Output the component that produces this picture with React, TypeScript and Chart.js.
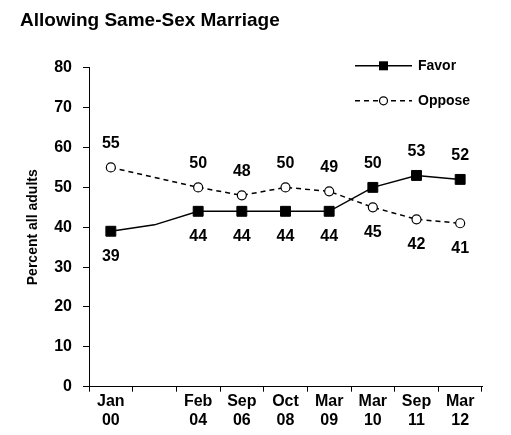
import React, { useEffect, useRef } from 'react';
import { Chart, registerables } from 'chart.js';

Chart.register(...registerables);

const categories: string[][] = [
  ['Jan', '00'],
  ['', ''],
  ['Feb', '04'],
  ['Sep', '06'],
  ['Oct', '08'],
  ['Mar', '09'],
  ['Mar', '10'],
  ['Sep', '11'],
  ['Mar', '12'],
];
const favor = [39, 40.6, 44, 44, 44, 44, 50, 53, 52];
const oppose = [55, 52.5, 50, 48, 50, 49, 45, 42, 41];
const seriesNames = ['Favor', 'Oppose'];
const yMin = 0;
const yMax = 80;
const yStep = 10;
const titleText = 'Allowing Same-Sex Marriage';
const yTitle = 'Percent all adults';

const FONT = '"Liberation Sans", Arial, sans-serif';
const isBlank = (i: number) => categories[i].join('') === '';

const pointLabels = {
  id: 'pointLabels',
  afterDatasetsDraw(chart: any) {
    const ctx = chart.ctx;
    const sets = chart.data.datasets;
    ctx.save();
    ctx.font = `bold 16px ${FONT}`;
    ctx.fillStyle = '#000';
    ctx.textAlign = 'center';
    ctx.textBaseline = 'middle';
    sets.forEach((ds: any, di: number) => {
      const meta = chart.getDatasetMeta(di);
      const other = sets[1 - di].data;
      meta.data.forEach((pt: any, i: number) => {
        if (isBlank(i)) return;
        const v = ds.data[i];
        const above = v > other[i];
        ctx.fillText(String(v), pt.x, pt.y + (above ? -24 : 25));
      });
    });
    ctx.restore();
  },
};

const customLegend = {
  id: 'customLegend',
  afterDraw(chart: any) {
    const ctx = chart.ctx;
    const { right, top } = chart.chartArea;
    const x0 = right - 127;
    const x1 = right - 70;
    const xm = (x0 + x1) / 2;
    chart.data.datasets.forEach((ds: any, di: number) => {
      const y = top - 2 + di * 35;
      ctx.save();
      ctx.strokeStyle = '#000';
      ctx.lineWidth = 1.5;
      ctx.setLineDash(ds.borderDash || []);
      ctx.beginPath();
      ctx.moveTo(x0, y);
      ctx.lineTo(x1, y);
      ctx.stroke();
      ctx.setLineDash([]);
      if (ds.pointStyle === 'rect') {
        ctx.fillStyle = '#000';
        ctx.fillRect(xm - 4.5, y - 4.5, 9, 9);
      } else {
        ctx.fillStyle = '#fff';
        ctx.lineWidth = 1.2;
        ctx.beginPath();
        ctx.arc(xm, y, 4, 0, Math.PI * 2);
        ctx.fill();
        ctx.stroke();
      }
      ctx.fillStyle = '#000';
      ctx.font = `bold 14px ${FONT}`;
      ctx.textAlign = 'left';
      ctx.textBaseline = 'middle';
      ctx.fillText(ds.label, x1 + 6, y);
      ctx.restore();
    });
  },
};

export default function App() {
  const ref = useRef<HTMLCanvasElement | null>(null);

  useEffect(() => {
    document.body.style.margin = '0';
    const canvas = ref.current;
    if (!canvas) return;
    const radius = (r: number) => (c: any) => (isBlank(c.dataIndex) ? 0 : r);
    const chart = new Chart(canvas, {
      type: 'line',
      data: {
        labels: categories,
        datasets: [
          {
            label: seriesNames[0],
            data: favor,
            borderColor: '#000',
            backgroundColor: '#000',
            borderWidth: 1.5,
            pointStyle: 'rect',
            pointRadius: radius(7),
            pointBorderWidth: 1,
            pointBackgroundColor: '#000',
            pointBorderColor: '#000',
            tension: 0,
          },
          {
            label: seriesNames[1],
            data: oppose,
            borderColor: '#000',
            backgroundColor: '#fff',
            borderWidth: 1.5,
            borderDash: [5, 4],
            pointStyle: 'circle',
            pointRadius: radius(4.5),
            pointBorderWidth: 1.2,
            pointBackgroundColor: '#fff',
            pointBorderColor: '#000',
            tension: 0,
          },
        ],
      },
      options: {
        animation: false,
        responsive: true,
        maintainAspectRatio: false,
        layout: { padding: { left: 20, right: 29, top: 0, bottom: 8 } },
        plugins: {
          legend: { display: false },
          tooltip: { enabled: false },
          title: {
            display: true,
            text: titleText,
            align: 'start',
            color: '#000',
            font: { family: FONT, size: 19, weight: 'bold' },
            padding: { top: 9, bottom: 36 },
          },
        },
        scales: {
          x: {
            type: 'category',
            offset: true,
            grid: {
              offset: true,
              drawOnChartArea: false,
              drawTicks: true,
              tickLength: 5,
              color: '#000',
            },
            border: { display: true, color: '#000', width: 1 },
            ticks: {
              color: '#000',
              font: { family: FONT, size: 16, weight: 'bold', lineHeight: 1.2 },
              padding: 0,
              maxRotation: 0,
              autoSkip: false,
            },
            afterFit(scale: any) {
              scale.height = 40.3;
            },
          },
          y: {
            min: yMin,
            max: yMax,
            ticks: {
              stepSize: yStep,
              color: '#000',
              font: { family: FONT, size: 16, weight: 'bold' },
              padding: 11,
            },
            grid: {
              drawOnChartArea: false,
              drawTicks: true,
              tickLength: 6,
              color: '#000',
            },
            border: { display: true, color: '#000', width: 1 },
            title: {
              display: true,
              text: yTitle,
              color: '#000',
              font: { family: FONT, size: 14, weight: 'bold' },
              padding: { top: 4.6, bottom: 0 },
            },
            afterFit(scale: any) {
              scale.width = 69;
            },
          },
        },
      },
      plugins: [pointLabels, customLegend],
    });
    return () => chart.destroy();
  }, []);

  return (
    <div style={{ width: 511, height: 435, position: 'relative', background: '#fff' }}>
      <canvas ref={ref} />
    </div>
  );
}
